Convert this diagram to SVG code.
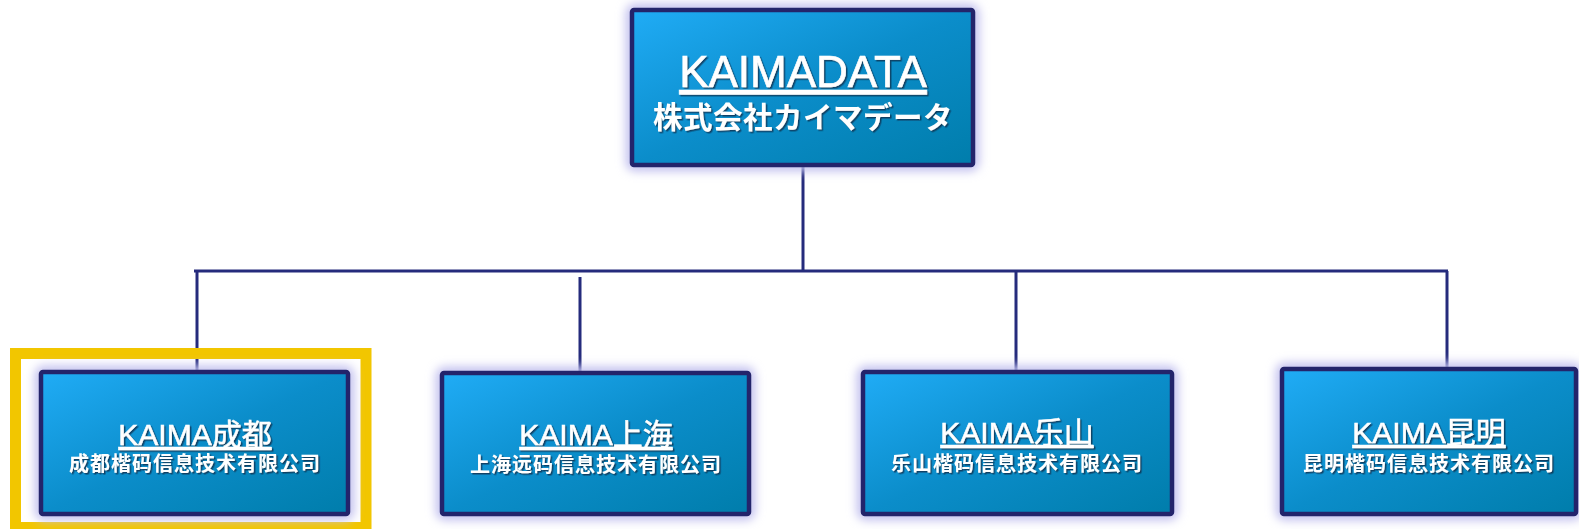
<svg xmlns="http://www.w3.org/2000/svg" width="1579" height="529" viewBox="0 0 1579 529">
<defs>
<linearGradient id="fillG" x1="0" y1="0" x2="1" y2="1">
<stop offset="0" stop-color="#20acf6"/>
<stop offset="0.5" stop-color="#0b8dca"/>
<stop offset="1" stop-color="#007dab"/>
</linearGradient>
<filter id="glow" x="-10%" y="-20%" width="120%" height="140%">
<feGaussianBlur stdDeviation="5"/>
</filter>
<filter id="tshadow" x="-5%" y="-20%" width="110%" height="150%">
<feDropShadow dx="1.5" dy="1.5" stdDeviation="0.6" flood-color="#0a2a45" flood-opacity="0.75"/>
</filter>
</defs>
<style>
.glow{fill:none;stroke:#c4c2ef;stroke-width:13;filter:url(#glow)}
.box{fill:url(#fillG);stroke:#23246b;stroke-width:4.5}
.conn{stroke:#252b7c;stroke-width:3;fill:none}
.t{fill:#ffffff;text-anchor:middle;filter:url(#tshadow);font-family:"Liberation Sans","Noto Sans CJK JP",sans-serif}
.title{font-size:30px;text-decoration:underline;stroke:#ffffff;stroke-width:0.5px}
.sub{font-size:20px;font-weight:bold;letter-spacing:1px}
</style>
<rect x="0" y="0" width="1579" height="529" fill="#ffffff"/>
<g id="connectors">
<line class="conn" x1="803" y1="165" x2="803" y2="271"/>
<line class="conn" x1="194" y1="271" x2="1448" y2="271"/>
<line class="conn" x1="197" y1="271" x2="197" y2="372"/>
<line class="conn" x1="580" y1="277" x2="580" y2="371"/>
<line class="conn" x1="1016" y1="271" x2="1016" y2="372"/>
<line class="conn" x1="1447" y1="271" x2="1447" y2="369"/>
</g>
<g id="highlight">
<rect x="15.5" y="353.5" width="350.5" height="174" fill="none" stroke="#f2c600" stroke-width="11"/>
</g>
<g id="node-kaimadata">
<rect class="glow" x="632" y="10" width="341" height="155" rx="3"/>
<rect class="box" x="632" y="10" width="341" height="155" rx="2"/>
<text class="t" x="803" y="87" font-size="44" text-decoration="underline" stroke="#ffffff" stroke-width="0.6">KAIMADATA</text>
<text class="t" x="803" y="128" font-size="29.5" font-weight="bold" letter-spacing="0.5">株式会社カイマデータ</text>
</g>
<g id="node-chengdu">
<rect class="glow" x="41" y="372" width="307" height="142" rx="3"/>
<rect class="box" x="41" y="372" width="307" height="142" rx="2"/>
<text class="t title" x="195" y="445">KAIMA成都</text>
<text class="t sub" x="195" y="471">成都楷码信息技术有限公司</text>
</g>
<g id="node-shanghai">
<rect class="glow" x="442" y="373" width="307" height="141" rx="3"/>
<rect class="box" x="442" y="373" width="307" height="141" rx="2"/>
<text class="t title" x="596" y="445">KAIMA上海</text>
<text class="t sub" x="596" y="472">上海远码信息技术有限公司</text>
</g>
<g id="node-leshan">
<rect class="glow" x="863" y="372" width="309" height="142" rx="3"/>
<rect class="box" x="863" y="372" width="309" height="142" rx="2"/>
<text class="t title" x="1017" y="443">KAIMA乐山</text>
<text class="t sub" x="1017" y="471">乐山楷码信息技术有限公司</text>
</g>
<g id="node-kunming">
<rect class="glow" x="1282" y="369" width="294" height="145" rx="3"/>
<rect class="box" x="1282" y="369" width="294" height="145" rx="2"/>
<text class="t title" x="1429" y="443">KAIMA昆明</text>
<text class="t sub" x="1429" y="471">昆明楷码信息技术有限公司</text>
</g>
</svg>
